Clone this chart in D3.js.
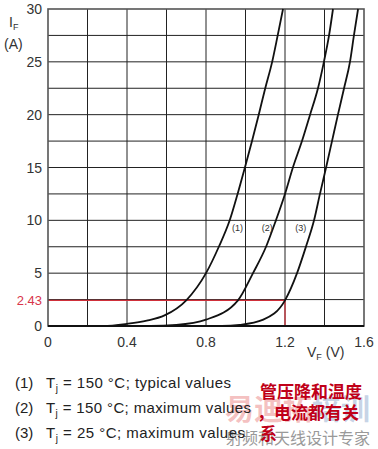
<!DOCTYPE html>
<html>
<head>
<meta charset="utf-8">
<script src="https://cdn.jsdelivr.net/npm/d3@7"></script>
<style>
  body { margin: 0; background: #fff; }
  svg { display: block; font-family: "Liberation Sans", Arial, sans-serif; }
</style>
</head>
<body>
<div id="chart"></div>
<script>
const W = 378, H = 449;

// forward voltage (V) vs forward current (A)
const curve1V = [0, 0.28, 0.40, 0.50, 0.59, 0.70, 0.80, 0.865, 0.92, 0.96, 0.997, 1.033, 1.067, 1.10, 1.135, 1.163, 1.19];
const curve1I = [0, 0, 0.2, 0.5, 1.0, 2.43, 5, 7.5, 10, 12.5, 15, 17.5, 20, 22.5, 25, 27.5, 30];
const curve2V = [0, 0.52, 0.65, 0.80, 0.962, 1.038, 1.104, 1.154, 1.20, 1.24, 1.286, 1.327, 1.367, 1.397, 1.423, 1.443];
const curve2I = [0, 0, 0.1, 0.6, 2.43, 5, 7.5, 10, 12.5, 15, 17.5, 20, 22.5, 25, 27.5, 30];
const curve3V = [0, 0.88, 0.97, 1.09, 1.20, 1.261, 1.306, 1.347, 1.377, 1.408, 1.438, 1.468, 1.499, 1.529, 1.549, 1.57];
const curve3I = [0, 0, 0.1, 0.6, 2.43, 5, 7.5, 10, 12.5, 15, 17.5, 20, 22.5, 25, 27.5, 30];
const curveNames = ["(1)", "(2)", "(3)"];
const labelV = [0.96, 1.11, 1.28];
const labelI = [9.0, 9.0, 9.0];

const xTicks = [0, 0.4, 0.8, 1.2, 1.6];
const yTicks = [0, 5, 10, 15, 20, 25, 30];
const markV = 1.2, markI = 2.43;

const legendNums = ["(1)", "(2)", "(3)"];
const legendTemps = ["150", "150", "25"];
const legendKinds = ["typical values", "maximum values", "maximum values"];
const noteLines = ["管压降和温度", "，电流都有关", "系"];

const x = d3.scaleLinear().domain([0, 1.6]).range([48, 364]);
const y = d3.scaleLinear().domain([0, 30]).range([326, 9]);

const svg = d3.select("#chart").append("svg")
    .attr("width", W)
    .attr("height", H);

// grid
svg.append("g")
    .selectAll("line")
    .data(d3.range(0.2, 1.6, 0.2))
    .enter().append("line")
    .attr("x1", d => x(d)).attr("x2", d => x(d))
    .attr("y1", y(0)).attr("y2", y(30))
    .attr("stroke", "#222").attr("stroke-width", 1);

svg.append("g")
    .selectAll("line")
    .data(d3.range(2.5, 30, 2.5))
    .enter().append("line")
    .attr("x1", x(0)).attr("x2", x(1.6))
    .attr("y1", d => y(d)).attr("y2", d => y(d))
    .attr("stroke", "#222").attr("stroke-width", 1);

// red marker at 2.43 A
svg.append("path")
    .attr("d", `M${x(0)},${y(markI)}H${x(markV)}V${y(0)}`)
    .attr("fill", "none")
    .attr("stroke", "#d0303a")
    .attr("stroke-width", 1.2);

// frame
svg.append("rect")
    .attr("x", x(0)).attr("y", y(30))
    .attr("width", x(1.6) - x(0)).attr("height", y(0) - y(30))
    .attr("fill", "none").attr("stroke", "#555").attr("stroke-width", 1.6);
svg.append("line")
    .attr("x1", x(0)).attr("x2", x(1.6))
    .attr("y1", y(0)).attr("y2", y(0))
    .attr("stroke", "#111").attr("stroke-width", 2.2);

// curves
const line = d3.line()
    .x(d => x(d[0]))
    .y(d => y(d[1]))
    .curve(d3.curveMonotoneX);

[[curve1V, curve1I], [curve2V, curve2I], [curve3V, curve3I]].forEach(([vs, is]) => {
    svg.append("path")
        .datum(d3.zip(vs, is))
        .attr("d", line)
        .attr("fill", "none")
        .attr("stroke", "#111")
        .attr("stroke-width", 1.8);
});

svg.selectAll(".clabel")
    .data(curveNames)
    .enter().append("text")
    .attr("class", "clabel")
    .attr("x", (d, i) => x(labelV[i]))
    .attr("y", (d, i) => y(labelI[i]))
    .attr("text-anchor", "middle")
    .style("font-size", "9px")
    .attr("fill", "#333")
    .text(d => d);

// tick labels
svg.selectAll(".ylab")
    .data(yTicks)
    .enter().append("text")
    .attr("class", "ylab")
    .attr("x", 42)
    .attr("y", d => y(d) + 5)
    .attr("text-anchor", "end")
    .style("font-size", "14px")
    .attr("fill", "#333")
    .text(d => d);

svg.selectAll(".xlab")
    .data(xTicks)
    .enter().append("text")
    .attr("class", "xlab")
    .attr("x", d => x(d))
    .attr("y", 347)
    .attr("text-anchor", "middle")
    .style("font-size", "14px")
    .attr("fill", "#333")
    .text(d => d === 0 ? "0" : d3.format(".1f")(d));

svg.append("text")
    .attr("x", 42).attr("y", y(markI) + 5)
    .attr("text-anchor", "end")
    .style("font-size", "13px")
    .attr("fill", "#d8344a")
    .text(markI);

// axis titles
const yt = svg.append("text").attr("x", 9).attr("y", 27).attr("fill", "#333").style("font-size", "14px");
yt.append("tspan").text("I");
yt.append("tspan").attr("dy", 3).style("font-size", "9px").text("F");
svg.append("text").attr("x", 4).attr("y", 49).attr("fill", "#333").style("font-size", "14px").text("(A)");

const xt = svg.append("text").attr("x", 307).attr("y", 357).attr("fill", "#333").style("font-size", "14px");
xt.append("tspan").text("V");
xt.append("tspan").attr("dy", 3).style("font-size", "9px").text("F");
xt.append("tspan").attr("dy", -3).text(" (V)");

// watermark
const wm = svg.append("text").attr("x", 225).attr("y", 420)
    .style("font-size", "29px").style("font-weight", "bold")
    .style("font-family", "'Noto Sans CJK SC'");
wm.append("tspan").attr("fill", "#f2b0b0").attr("fill-opacity", 0.8).text("易迪拓");
wm.append("tspan").attr("fill", "#b8c8e0").attr("fill-opacity", 0.8).text("培训");
svg.append("text").attr("x", 226).attr("y", 444)
    .style("font-size", "16px")
    .style("font-family", "'Noto Sans CJK SC'")
    .attr("fill", "#999")
    .text("射频和天线设计专家");

// legend
const legendEnds = [231, 251, 245];
legendNums.forEach((n, i) => {
    const ly = 388 + i * 25;
    svg.append("text").attr("x", 15).attr("y", ly).attr("fill", "#222")
        .style("font-size", "15px").text(n);
    const t = svg.append("text").attr("x", 46).attr("y", ly).attr("fill", "#222")
        .style("font-size", "15px")
        .attr("textLength", legendEnds[i] - 46)
        .attr("lengthAdjust", "spacing");
    t.append("tspan").text("T");
    t.append("tspan").attr("dy", 4).style("font-size", "10px").text("j");
    t.append("tspan").attr("dy", -4).text(` = ${legendTemps[i]} °C; ${legendKinds[i]}`);
});

// red note
noteLines.forEach((s, i) => {
    svg.append("text")
        .attr("x", i === 1 ? 257 : 260)
        .attr("y", 398 + i * 21)
        .style("font-size", "17px")
        .style("font-weight", "bold")
        .style("font-family", "'Noto Sans CJK SC'")
        .attr("fill", "#c00018")
        .text(s);
});
</script>
</body>
</html>
